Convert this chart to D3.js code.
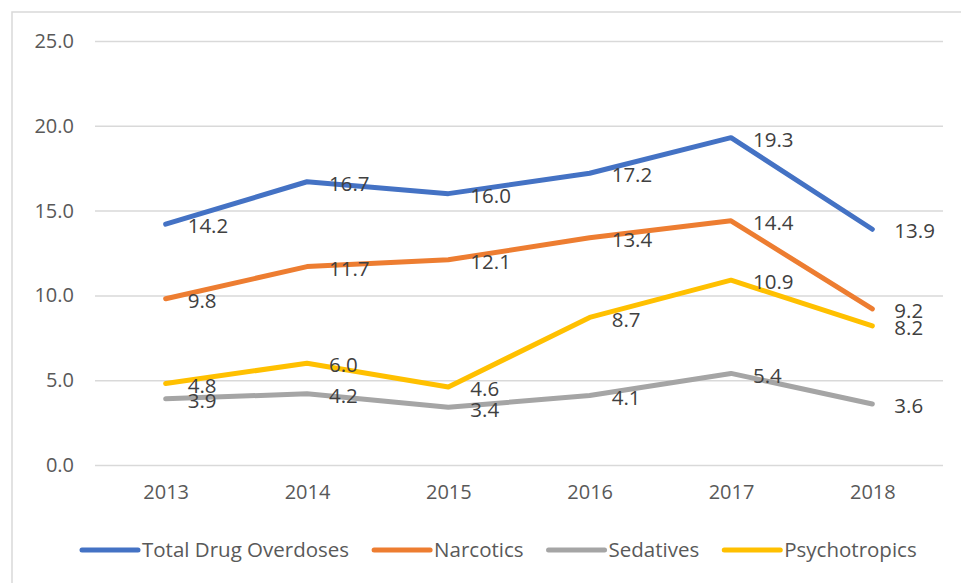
<!DOCTYPE html>
<html>
<head>
<meta charset="utf-8">
<script src="https://cdn.jsdelivr.net/npm/d3@7"></script>
<style>
  html, body { margin: 0; padding: 0; background: #ffffff; }
  svg { display: block; font-family: "Open Sans", "Noto Sans", sans-serif; }
</style>
</head>
<body>
<svg id="chart" width="961" height="583"></svg>
<script>
const years = ["2013", "2014", "2015", "2016", "2017", "2018"];
const seriesNames = ["Total Drug Overdoses", "Narcotics", "Sedatives", "Psychotropics"];
const totalDrugOverdoses = [14.2, 16.7, 16.0, 17.2, 19.3, 13.9];
const narcotics = [9.8, 11.7, 12.1, 13.4, 14.4, 9.2];
const sedatives = [3.9, 4.2, 3.4, 4.1, 5.4, 3.6];
const psychotropics = [4.8, 6.0, 4.6, 8.7, 10.9, 8.2];
const yTicks = [0, 5, 10, 15, 20, 25];
const colors = ["#4472C4", "#ED7D31", "#A5A5A5", "#FFC000"];

const seriesValues = [totalDrugOverdoses, narcotics, sedatives, psychotropics];
const series = seriesNames.map((name, i) => ({ name, color: colors[i], values: seriesValues[i] }));

const svg = d3.select("#chart");

// outer frame
svg.append("rect")
  .attr("x", 12).attr("y", 12)
  .attr("width", 970).attr("height", 600)
  .attr("fill", "none").attr("stroke", "#d9d9d9").attr("stroke-width", 1.5);

const plotLeft = 95, plotRight = 943, plotTop = 41, plotBottom = 465;

const x = d3.scalePoint().domain(years).range([plotLeft, plotRight]).padding(0.5);
const y = d3.scaleLinear().domain([0, 25]).range([plotBottom, plotTop]);

// gridlines + y labels
const yAxis = d3.axisLeft(y).tickValues(yTicks).tickSize(-(plotRight - plotLeft)).tickPadding(21)
  .tickFormat(d3.format(".1f"));
const gy = svg.append("g").attr("transform", `translate(${plotLeft},0)`).call(yAxis);
gy.select(".domain").remove();
gy.selectAll(".tick line").attr("stroke", "#d9d9d9").attr("stroke-width", 1.5);
gy.selectAll(".tick text").attr("fill", "#595959").attr("font-size", 20)
  .attr("font-family", "'Open Sans', sans-serif");

// x labels
const xAxis = d3.axisBottom(x).tickSize(0).tickPadding(20);
const gx = svg.append("g").attr("transform", `translate(0,${plotBottom})`).call(xAxis);
gx.select(".domain").remove();
gx.selectAll(".tick text").attr("fill", "#595959").attr("font-size", 20)
  .attr("font-family", "'Open Sans', sans-serif");

// lines
const line = d3.line().x((d, i) => x(years[i])).y(d => y(d));
svg.append("g").selectAll("path").data(series).join("path")
  .attr("d", d => line(d.values))
  .attr("fill", "none")
  .attr("stroke", d => d.color)
  .attr("stroke-width", 5)
  .attr("stroke-linecap", "round")
  .attr("stroke-linejoin", "round");

// data labels
const lbl = svg.append("g");
series.forEach(s => {
  lbl.selectAll(null).data(s.values).join("text")
    .attr("x", (d, i) => x(years[i]) + 22)
    .attr("y", d => y(d) + 2)
    .attr("dy", "0.35em")
    .attr("fill", "#404040")
    .attr("font-size", 20.5)
    .text(d => d3.format(".1f")(d));
});

// legend
const legend = svg.append("g");
let lx = 82;
const ly = 550;
series.forEach(s => {
  legend.append("line")
    .attr("x1", lx).attr("x2", lx + 56)
    .attr("y1", ly).attr("y2", ly)
    .attr("stroke", s.color).attr("stroke-width", 5).attr("stroke-linecap", "round");
  const t = legend.append("text")
    .attr("x", lx + 60).attr("y", ly).attr("dy", "0.35em")
    .attr("fill", "#595959").attr("font-size", 20.5)
    .text(s.name);
  const w = t.node().getComputedTextLength();
  lx = lx + 60 + w + 25;
});
</script>
</body>
</html>
